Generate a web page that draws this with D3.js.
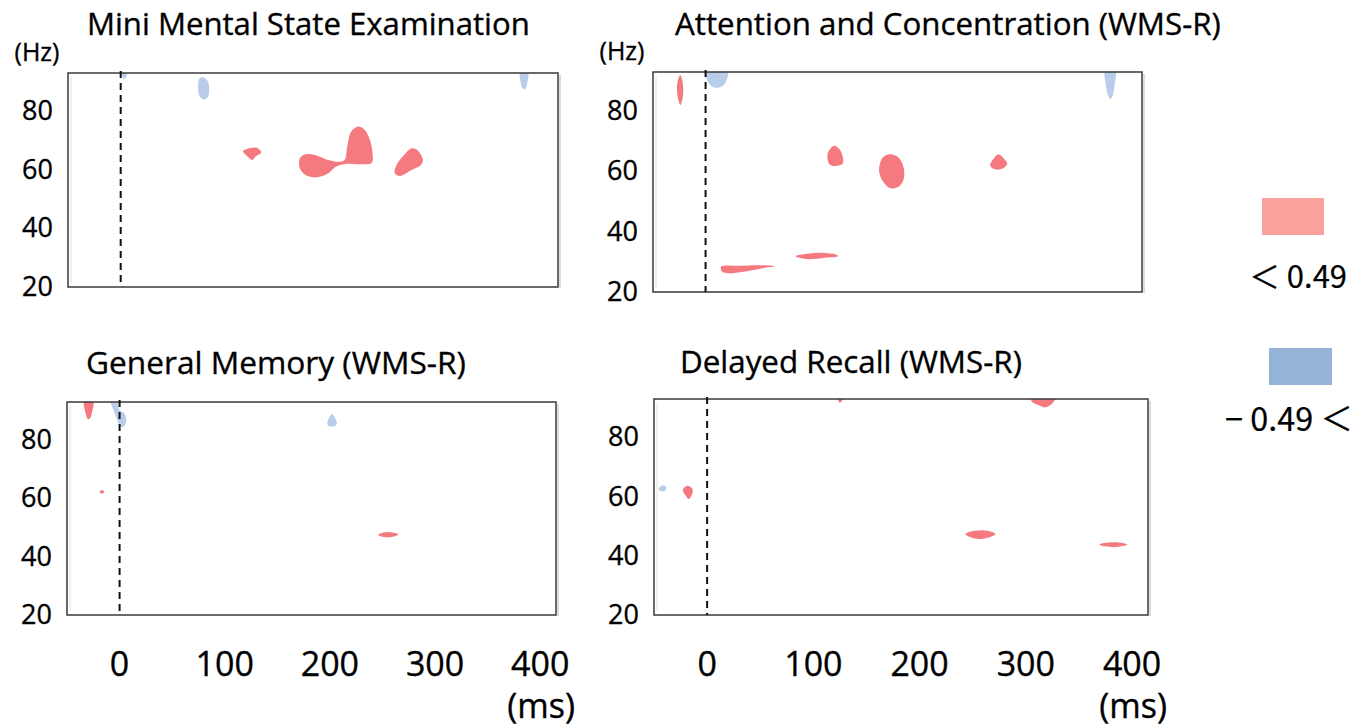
<!DOCTYPE html>
<html>
<head>
<meta charset="utf-8">
<script src="https://cdn.jsdelivr.net/npm/d3@7"></script>
<style>
  body { margin: 0; background: #fff; }
  text { font-family: "Open Sans", "Noto Sans", sans-serif; fill: #000; stroke: #000; stroke-width: 0.35px; }
</style>
</head>
<body>
<div id="chart"></div>
<script>
// time (ms) and frequency (Hz) ranges shown in every panel
const xDomain = [-50, 415];
const yDomain = [20, 93];
const xTicks = [0, 100, 200, 300, 400];
const yTicks = [20, 40, 60, 80];

const titles = [
    "Mini Mental State Examination",
    "Attention and Concentration (WMS-R)",
    "General Memory (WMS-R)",
    "Delayed Recall (WMS-R)"
];
const legendLabels = ["＜ 0.49", "− 0.49 ＜"];

// significant clusters, outlines as [ms, Hz] points (red = positive, blue = negative)
const mmseRed = [
    [[116, 66.3], [123, 67.4], [129, 67.5], [133.5, 66], [128, 64.5], [125, 63.3], [119, 65]],
    [[170, 63.9], [175.5, 65.3], [184.5, 65], [195, 63.5], [208, 62.7], [212.5, 63.3], [215, 67.9], [218.6, 73],
     [224.8, 74.7], [231, 73.8], [236.6, 70.1], [239, 65.6], [238.4, 62.4], [227.6, 61.9], [213, 62], [204, 61],
     [197, 58.8], [186, 57.4], [175.5, 58.2], [170, 60.5]],
    [[260, 58.8], [261.7, 61.6], [269, 65], [276, 67.3], [281.5, 66.7], [286.8, 63.3], [285, 61.6], [276, 59.9], [265, 57.9]]
];
const mmseBlue = [
    [[1, 93.5], [6, 93.5], [5, 91.5], [3, 91]],
    [[75, 91.3], [79, 91.5], [83, 90], [84, 87], [83, 85], [79, 84], [75, 85], [73.5, 88]],
    [[379, 93.5], [386.5, 93.5], [386, 90], [384, 87.5], [381, 88], [379.5, 90]]
];

const attnRed = [
    [[-24, 92], [-22, 90], [-21.2, 87], [-22, 84], [-24, 82], [-26, 84], [-27.2, 87], [-26.5, 90]],
    [[122.4, 68.5], [128.7, 66.6], [130.5, 62.7], [122.4, 61.8], [117.6, 62.5], [116.2, 66]],
    [[176.6, 65.7], [184, 64.5], [188.5, 61], [188, 57], [183, 54.8], [176, 54.4], [169, 56.5], [165, 60], [167, 63.8], [171, 65.3]],
    [[278.6, 65.7], [284.3, 64], [286.9, 62.5], [280.5, 60.7], [273.2, 61], [270.6, 62.1], [274.3, 64.4]],
    [[14.7, 28.4], [32, 28.7], [50.7, 28.9], [66, 28.6], [54.4, 27.9], [36, 26.7], [21.3, 26.2], [15.8, 26.7]],
    [[85.6, 31.9], [98.5, 32.8], [109.6, 33], [125, 32.3], [126.1, 31.9], [113.2, 31.4], [98.5, 30.9], [89.3, 31.4]]
];
const attnBlue = [
    [[0.3, 93.5], [20.6, 93.5], [19.4, 89.8], [14.7, 88.1], [7.3, 87.9], [2.9, 89.4]],
    [[380, 93.5], [389.5, 93.5], [389, 89], [387, 85], [385, 84], [382.5, 85.5], [380.5, 89]]
];

const memRed = [
    [[-33.6, 93.5], [-25.3, 93.5], [-26.4, 89.1], [-28.2, 87.4], [-30, 87.1], [-31.8, 88.5]],
    [[-19, 62.3], [-16.5, 62.8], [-14.7, 62.2], [-16.5, 61.5]],
    [[245.9, 47.5], [250, 48.2], [256, 48.4], [262, 48.1], [265, 47.6], [261, 46.9], [255, 46.6], [249, 46.9]]
];
const memBlue = [
    [[-8.2, 93.5], [-2.7, 93.5], [-0.2, 90.3], [4.6, 89.1], [6.4, 86.8], [4.6, 84.8], [1, 84.5], [-1.6, 86.2], [-4.5, 89.1]],
    [[201.8, 88.8], [206.6, 85.7], [204.8, 84.8], [198.6, 84.8], [197.5, 85.7]]
];

const recallRed = [
    [[-18.6, 63.7], [-14.2, 62.8], [-13.6, 61.5], [-17.2, 59.2], [-20.7, 60.6], [-22.9, 62.3]],
    [[123.3, 93.5], [128, 93.5], [126, 92], [124.5, 91.8]],
    [[304.5, 93.5], [327.9, 93.5], [324.2, 91.3], [318.9, 90.2], [311.6, 91], [306, 92]],
    [[243.2, 47.3], [248, 48.2], [256, 48.6], [265, 48.4], [271.4, 47.4], [265, 46.2], [256, 45.7], [248, 46.3]],
    [[369.3, 43.8], [375, 44.4], [383, 44.6], [391, 44.3], [395.6, 43.8], [390, 43.2], [382, 42.9], [374, 43.2]]
];
const recallBlue = [
    [[-45.6, 62.5], [-43, 63.7], [-39, 63.5], [-38.7, 62.3], [-42, 61.7]]
];

const redFill = "#f47a80";
const blueFill = "#b8cdea";

// panel placement on the page
const layout = [
    {x: 68, y: 73, w: 490, h: 214, title: [87, 530, 35], hz: true, ms: false},
    {x: 653, y: 72, w: 489, h: 220, title: [675, 1221, 35], hz: true, ms: false},
    {x: 67, y: 402, w: 489, h: 213, title: [86, 466, 374], hz: false, ms: true},
    {x: 654, y: 399, w: 494, h: 216, title: [680, 1022, 373], hz: false, ms: true}
];
const clusters = [[mmseRed, mmseBlue], [attnRed, attnBlue], [memRed, memBlue], [recallRed, recallBlue]];

let svg = d3.select("#chart").append("svg")
    .attr("width", 1372)
    .attr("height", 727);

// scale a text so it spans the given width
function fitWidth(sel, width) {
    let fs = parseFloat(sel.attr("font-size"));
    let w = sel.node().getComputedTextLength();
    sel.attr("font-size", fs * width / w);
}

layout.forEach(function (p, i) {
    let x = d3.scaleLinear().domain(xDomain).range([p.x, p.x + p.w]);
    let y = d3.scaleLinear().domain(yDomain).range([p.y + p.h, p.y]);

    svg.append("clipPath").attr("id", "clip" + i)
        .append("rect")
        .attr("x", p.x).attr("y", p.y).attr("width", p.w).attr("height", p.h);

    let line = d3.line()
        .x(d => x(d[0]))
        .y(d => y(d[1]))
        .curve(d3.curveCatmullRomClosed.alpha(0.5));

    let g = svg.append("g").attr("clip-path", "url(#clip" + i + ")");
    g.selectAll(".red")
        .data(clusters[i][0])
        .enter().append("path")
        .attr("class", "red")
        .attr("d", line)
        .attr("fill", redFill);
    g.selectAll(".blue")
        .data(clusters[i][1])
        .enter().append("path")
        .attr("class", "blue")
        .attr("d", line)
        .attr("fill", blueFill);

    // faint edge line inside the frame
    svg.append("line")
        .attr("x1", p.x + 3).attr("x2", p.x + 3)
        .attr("y1", p.y + 4).attr("y2", p.y + p.h - 4)
        .attr("stroke", "#e6e6e6")
        .attr("stroke-width", 1.2);

    svg.append("rect")
        .attr("x", p.x).attr("y", p.y).attr("width", p.w).attr("height", p.h)
        .attr("fill", "none")
        .attr("stroke", "#3a3a3a")
        .attr("stroke-width", 1.5);
    svg.append("line")
        .attr("x1", p.x + p.w + 2).attr("x2", p.x + p.w + 2)
        .attr("y1", p.y + 2).attr("y2", p.y + p.h + 1)
        .attr("stroke", "#d0d0d0")
        .attr("stroke-width", 1.5);

    // stimulus onset
    svg.append("line")
        .attr("x1", x(0)).attr("x2", x(0))
        .attr("y1", p.y - 2).attr("y2", p.y + p.h)
        .attr("stroke", "#111")
        .attr("stroke-width", 2)
        .attr("stroke-dasharray", "7,5");

    svg.selectAll(".ytick" + i)
        .data(yTicks)
        .enter().append("text")
        .attr("class", "ytick" + i)
        .attr("x", p.x - 15)
        .attr("y", d => y(d) + 9)
        .attr("text-anchor", "end")
        .attr("font-size", 27)
        .text(d => d);

    let t = svg.append("text")
        .attr("x", p.title[0])
        .attr("y", p.title[2])
        .attr("font-size", 27)
        .text(titles[i]);
    fitWidth(t, p.title[1] - p.title[0]);

    if (p.hz) {
        svg.append("text")
            .attr("x", p.x - 31)
            .attr("y", p.y - 12)
            .attr("text-anchor", "middle")
            .attr("font-size", 25)
            .text("(Hz)");
    }
    if (p.ms) {
        svg.selectAll(".xtick" + i)
            .data(xTicks)
            .enter().append("text")
            .attr("class", "xtick" + i)
            .attr("x", d => x(d))
            .attr("y", 676)
            .attr("text-anchor", "middle")
            .attr("font-size", 34)
            .text(d => d);
        svg.append("text")
            .attr("x", x(400) + 1)
            .attr("y", 718)
            .attr("text-anchor", "middle")
            .attr("font-size", 34)
            .text("(ms)");
    }
});

// legend
let legend = [
    {fill: "#f8a29b", rect: [1262, 198, 62, 37], text: [1249, 1347, 288]},
    {fill: "#95b3d7", rect: [1269, 348, 63, 37], text: [1225, 1353, 431]}
];
legend.forEach(function (l, i) {
    svg.append("rect")
        .attr("x", l.rect[0]).attr("y", l.rect[1])
        .attr("width", l.rect[2]).attr("height", l.rect[3])
        .attr("fill", l.fill);
    let t = svg.append("text")
        .attr("x", l.text[0])
        .attr("y", l.text[2])
        .attr("font-size", 28)
        .style("font-family", "'Noto Sans CJK JP', 'Noto Sans', sans-serif")
        .style("stroke-width", "0.2px")
        .text(legendLabels[i]);
    fitWidth(t, l.text[1] - l.text[0]);
});
</script>
</body>
</html>
